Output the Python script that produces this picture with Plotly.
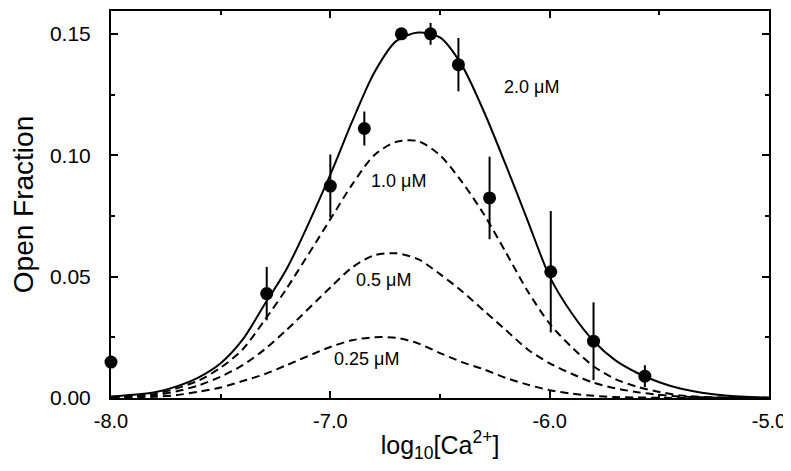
import plotly.graph_objects as go

# Curve samples
curve_x = [-8.0, -7.8, -7.7, -7.6, -7.5, -7.4, -7.3, -7.2, -7.0, -6.9, -6.8, -6.7, -6.6, -6.5, -6.4,
           -6.3, -6.2, -6.1, -6.0, -5.9, -5.8, -5.7, -5.6, -5.5, -5.4, -5.2, -5.0]
curve_20 = [0.0006, 0.0024, 0.0048, 0.0085, 0.0143, 0.024, 0.0385, 0.053, 0.092, 0.114, 0.134, 0.147,
            0.1505, 0.1485, 0.137, 0.118, 0.096, 0.073, 0.050, 0.035, 0.0235, 0.0155, 0.0103, 0.0065,
            0.0038, 0.0010, 0.0002]
curve_10 = [0.0004, 0.0017, 0.0040, 0.0072, 0.0125, 0.020, 0.032, 0.045, 0.0736, 0.088, 0.100, 0.1055,
            0.1058, 0.100, 0.089, 0.0757, 0.060, 0.044, 0.0306, 0.021, 0.0131, 0.0078, 0.0046, 0.0025,
            0.0010, 0.0002, 0.0]
curve_05 = [0.0002, 0.0012, 0.0028, 0.0052, 0.0088, 0.0135, 0.020, 0.028, 0.0455, 0.0538, 0.0588, 0.0596,
            0.0572, 0.051, 0.044, 0.036, 0.028, 0.020, 0.0143, 0.0100, 0.0063, 0.0040, 0.0024, 0.0013,
            0.0006, 0.0001, 0.0]
curve_025 = [0.0001, 0.0005, 0.0012, 0.0026, 0.0043, 0.007, 0.0098, 0.0135, 0.021, 0.0238, 0.0250, 0.0248,
             0.0225, 0.0185, 0.0148, 0.0118, 0.0083, 0.0055, 0.0032, 0.0018, 0.0009, 0.0004, 0.0002, 0.0001,
             0.0, 0.0, 0.0]

# Measured points (2.0 uM)
pts_x = [-8.0, -7.29, -7.0, -6.845, -6.676, -6.543, -6.416, -6.274, -5.995, -5.80, -5.566]
pts_y = [0.0148, 0.0430, 0.0873, 0.111, 0.150, 0.150, 0.1373, 0.0824, 0.052, 0.0234, 0.009]
pts_err = [0.0, 0.011, 0.013, 0.007, 0.0, 0.0045, 0.011, 0.017, 0.025, 0.016, 0.0045]

labels = ["2.0 μM", "1.0 μM", "0.5 μM", "0.25 μM"]
label_x = [-6.082, -6.689, -6.758, -6.836]
label_y = [0.1279, 0.0893, 0.0484, 0.016]

x_ticks = [-8.0, -7.0, -6.0, -5.0]
x_ticktext = ["-8.0", "-7.0", "-6.0", "-5.0"]
x_minor = [-7.5, -6.5, -5.5]
y_ticks = [0.0, 0.05, 0.10, 0.15]
y_ticktext = ["0.00", "0.05", "0.10", "0.15"]
y_minor = [0.025, 0.075, 0.125]

FONT = "Liberation Sans, Arial, sans-serif"

fig = go.Figure()
dash = "8px,5px"
for ys, d in [(curve_025, dash), (curve_05, dash), (curve_10, dash), (curve_20, "solid")]:
    fig.add_trace(go.Scatter(x=curve_x, y=ys, mode="lines",
                             line=dict(color="black", width=2, dash=d, shape="spline", smoothing=0.8),
                             hoverinfo="skip", showlegend=False))

fig.add_trace(go.Scatter(x=pts_x, y=pts_y, mode="markers", cliponaxis=False,
                         marker=dict(color="black", size=13),
                         error_y=dict(type="data", array=pts_err, visible=True,
                                      color="black", thickness=2, width=0),
                         showlegend=False))

for t, lx, ly in zip(labels, label_x, label_y):
    fig.add_annotation(x=lx, y=ly, text=t, showarrow=False,
                       font=dict(family=FONT, size=18, color="black"))

fig.update_xaxes(range=[-8.0, -5.0], tickmode="array", tickvals=x_ticks, ticktext=x_ticktext,
                 ticks="inside", ticklen=7, tickwidth=1.5, tickcolor="black",
                 minor=dict(tickmode="array", tickvals=x_minor, ticks="inside", ticklen=4,
                            tickwidth=1.5, tickcolor="black"),
                 showline=True, linecolor="black", linewidth=2, mirror="ticks",
                 showgrid=False, zeroline=False, tickfont=dict(family=FONT, size=20, color="black"),
                 ticklabelstandoff=4,
                 title=dict(text="log<sub>10</sub>[Ca<sup>2+</sup>]", standoff=6,
                            font=dict(family=FONT, size=25, color="black")))
fig.update_yaxes(range=[0.0, 0.1594], tickmode="array", tickvals=y_ticks, ticktext=y_ticktext,
                 ticks="inside", ticklen=7, tickwidth=1.5, tickcolor="black",
                 minor=dict(tickmode="array", tickvals=y_minor, ticks="inside", ticklen=4,
                            tickwidth=1.5, tickcolor="black"),
                 showline=True, linecolor="black", linewidth=2, mirror="ticks",
                 showgrid=False, zeroline=False, tickfont=dict(family=FONT, size=21, color="black"),
                 ticklabelstandoff=14,
                 title=dict(text="Open Fraction", standoff=8,
                            font=dict(family=FONT, size=28, color="black")))

# page has an 8px body margin: compensate so the plot area lands where the reference has it
fig.update_layout(width=790, height=455, margin=dict(l=103, r=29, t=1, b=65),
                  plot_bgcolor="white", paper_bgcolor="white")

fig.write_html("out.html")
